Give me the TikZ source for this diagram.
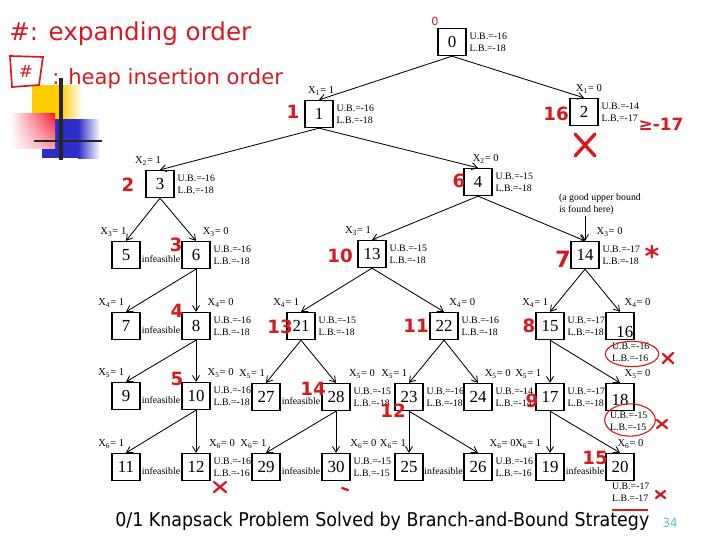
\documentclass[tikz,border=0pt]{standalone}
\usepackage{fontspec}
\setmainfont{Liberation Serif}
\newfontfamily\notefont{DejaVu Sans}
\newfontfamily\titlefont[FakeStretch=0.92]{DejaVu Sans}
\usetikzlibrary{arrows.meta,shadings}
\definecolor{pen}{RGB}{215,25,30}
\definecolor{pagenum}{RGB}{90,195,195}
\definecolor{tyellow}{RGB}{255,204,0}
\definecolor{tblue}{RGB}{45,45,200}
\definecolor{tred}{RGB}{245,20,45}
\newcommand{\xv}[2]{X\textsubscript{#1}= #2}
\begin{document}
\begin{tikzpicture}[x=0.025cm,y=-0.025cm,>={Straight Barb[length=4pt,width=5pt]},
  box/.style={draw,line width=.8pt,minimum width=.7cm,minimum height=.68cm,inner sep=0pt,font=\fontsize{12}{12}\selectfont},
  bd/.style={anchor=west,align=left,inner sep=1pt,xshift=1pt,font=\fontsize{7}{8.5}\selectfont},
  one/.style={pos=1,anchor=south east,inner sep=1pt,yshift=2pt,font=\fontsize{7.5}{8}\selectfont},
  zero/.style={pos=1,anchor=south west,inner sep=1pt,yshift=2pt,xshift=2pt,font=\fontsize{7.5}{8}\selectfont},
  inf/.style={inner sep=0pt,yshift=-3pt,font=\fontsize{7}{8}\selectfont},
  note/.style={pen,inner sep=0pt,font=\notefont\bfseries\fontsize{13}{13}\selectfont},
  cross/.style={pen,line width=1.6pt,line cap=round},
  edge/.style={->,line width=.6pt}]
\useasboundingbox (0,0) rectangle (720,540);

% template corner
\fill[tyellow] (32,85) rectangle (60,120);
\shade[left color=tyellow,right color=white] (60,85) rectangle (82,120);
\fill[tblue] (42,119) rectangle (78,158);
\shade[left color=tblue,right color=white] (78,119) rectangle (100,158);
\shade[upper right=tred,upper left=white,lower left=white,lower right=tred!40] (10,113) rectangle (55,148);
\draw[black!85,line width=2.2pt] (61,78) -- (61,160);
\draw[black!85,line width=1.6pt] (34,141) -- (102,141);

% tree
\node[box] (n0) at (452,42) {0};
\node[box] (n1) at (319,114) {1};
\node[box] (n2) at (584,112) {2};
\node[box] (n3) at (160,184) {3};
\node[box] (n4) at (478,182) {4};
\node[box] (n5) at (126,255) {5};
\node[box] (n6) at (196,255) {6};
\node[box] (n13) at (372,254) {13};
\node[box] (n14) at (585,255) {14};
\node[box] (n7) at (126,326) {7};
\node[box] (n8) at (196,326) {8};
\node[box] (n21) at (301,326) {21};
\node[box] (n22) at (444,326) {22};
\node[box] (n15) at (550,326) {15};
\node[box,text height=16pt] (n16) at (620,326) {\hspace{7pt}16};
\node[box] (n9) at (126,396) {9};
\node[box] (n10) at (196,396) {10};
\node[box] (n27) at (266,397) {27};
\node[box] (n28) at (336,397) {28};
\node[box] (n23) at (409,397) {23};
\node[box] (n24) at (478,397) {24};
\node[box] (n17) at (550,397) {17};
\node[box,text height=12pt] (n18) at (620,397) {18};
\node[box] (n11) at (126,467) {11};
\node[box] (n12) at (196,467) {12};
\node[box] (n29) at (266,467) {29};
\node[box] (n30) at (336,467) {30};
\node[box] (n25) at (409,467) {25};
\node[box] (n26) at (478,467) {26};
\node[box] (n19) at (550,467) {19};
\node[box] (n20) at (620,467) {20};

\draw[edge] (n0.south) -- (n1.north) node[one,xshift=12pt]{\xv{1}{1}};
\draw[edge] (n0.south) -- (n2.north) node[zero,xshift=-9pt]{\xv{1}{0}};
\draw[edge] (n1.south) -- (n3.north) node[one,xshift=2pt]{\xv{2}{1}};
\draw[edge] (n1.south) -- (n4.north) node[zero,xshift=-7pt]{\xv{2}{0}};
\draw[edge] (n3.south) -- (n5.north) node[one,xshift=1.5pt]{\xv{3}{1}};
\draw[edge] (n3.south) -- (n6.north) node[zero,xshift=1.5pt]{\xv{3}{0}};
\draw[edge] (n4.south) -- (n13.north) node[one,xshift=.5pt]{\xv{3}{1}};
\draw[edge] (n4.south) -- (n14.north) node[zero,xshift=5pt]{\xv{3}{0}};
\draw[edge] (n6.south) -- (n7.north) node[one]{\xv{4}{1}};
\draw[edge] (n6.south) -- (n8.north) node[zero,xshift=5pt]{\xv{4}{0}};
\draw[edge] (n13.south) -- (n21.north) node[one]{\xv{4}{1}};
\draw[edge] (n13.south) -- (n22.north) node[zero,xshift=.5pt]{\xv{4}{0}};
\draw[edge] (n14.south) -- (n15.north) node[one]{\xv{4}{1}};
\draw[edge] (n14.south) -- (n16.north) node[zero]{\xv{4}{0}};
\draw[edge] (n8.south) -- (n9.north) node[one]{\xv{5}{1}};
\draw[edge] (n8.south) -- (n10.north) node[zero,xshift=5pt]{\xv{5}{0}};
\draw[edge] (n21.south) -- (n27.north) node[one,xshift=.5pt]{\xv{5}{1}};
\draw[edge] (n21.south) -- (n28.north) node[zero,xshift=6pt]{\xv{5}{0}};
\draw[edge] (n22.south) -- (n23.north) node[one]{\xv{5}{1}};
\draw[edge] (n22.south) -- (n24.north) node[zero,xshift=1.5pt]{\xv{5}{0}};
\draw[edge] (n15.south) -- (n17.north) node[one,xshift=-5pt]{\xv{5}{1}};
\draw[edge] (n15.south) -- (n18.north) node[zero,xshift=0pt]{\xv{5}{0}};
\draw[edge] (n10.south) -- (n11.north) node[one]{\xv{6}{1}};
\draw[edge] (n10.south) -- (n12.north) node[zero,xshift=6pt]{\xv{6}{0}};
\draw[edge] (n28.south) -- (n29.north) node[one,xshift=1.5pt]{\xv{6}{1}};
\draw[edge] (n28.south) -- (n30.north) node[zero,xshift=7pt]{\xv{6}{0}};
\draw[edge] (n23.south) -- (n25.north) node[one,xshift=-1pt]{\xv{6}{1}};
\draw[edge] (n23.south) -- (n26.north) node[zero,xshift=5pt]{\xv{6}{0}};
\draw[edge] (n17.south) -- (n19.north) node[one,xshift=-5pt]{\xv{6}{1}};
\draw[edge] (n17.south) -- (n20.north) node[zero,xshift=-5pt]{\xv{6}{0}};

% bounds
\node[bd] (b0) at (n0.east) {U.B.=-16\\L.B.=-18};
\node[bd] (b1) at (n1.east) {U.B.=-16\\L.B.=-18};
\node[bd] (b2) at (n2.east) {U.B.=-14\\L.B.=-17};
\node[bd] (b3) at (n3.east) {U.B.=-16\\L.B.=-18};
\node[bd] (b4) at (n4.east) {U.B.=-15\\L.B.=-18};
\node[bd] (b6) at (n6.east) {U.B.=-16\\L.B.=-18};
\node[bd] (b13) at (n13.east) {U.B.=-15\\L.B.=-18};
\node[bd] (b14) at (n14.east) {U.B.=-17\\L.B.=-18};
\node[bd] (b8) at (n8.east) {U.B.=-16\\L.B.=-18};
\node[bd] (b21) at (n21.east) {U.B.=-15\\L.B.=-18};
\node[bd] (b22) at (n22.east) {U.B.=-16\\L.B.=-18};
\node[bd] (b15) at (n15.east) {U.B.=-17\\L.B.=-18};
\node[bd,anchor=north west] (b16) at (609,341) {U.B.=-16\\L.B.=-16};
\node[bd] (b10) at (n10.east) {U.B.=-16\\L.B.=-18};
\node[bd] (b28) at (n28.east) {U.B.=-15\\L.B.=-18};
\node[bd] (b23) at (n23.east) {U.B.=-16\\L.B.=-18};
\node[bd] (b24) at (n24.east) {U.B.=-14\\L.B.=-14};
\node[bd] (b17) at (n17.east) {U.B.=-17\\L.B.=-18};
\node[bd,anchor=north west] (b18) at (607,410) {U.B.=-15\\L.B.=-15};
\node[bd] (b12) at (n12.east) {U.B.=-16\\L.B.=-16};
\node[bd] (b30) at (n30.east) {U.B.=-15\\L.B.=-15};
\node[bd] (b26) at (n26.east) {U.B.=-16\\L.B.=-16};
\node[bd,anchor=north west] (b20) at (609,481) {U.B.=-17\\L.B.=-17};

\path (n5) -- node[inf]{infeasible} (n6);
\path (n7) -- node[inf]{infeasible} (n8);
\path (n9) -- node[inf]{infeasible} (n10);
\path (n11) -- node[inf]{infeasible} (n12);
\path (n27) -- node[inf]{infeasible} (n28);
\path (n29) -- node[inf]{infeasible} (n30);
\path (n25) -- node[inf]{infeasible} (n26);
\path (n19) -- node[inf]{infeasible} (n20);

\node[bd,anchor=west] (good) at (556,204) {(a good upper bound\\is found here)};
\draw[edge] (good.south -| n14) -- (n14.north);

% handwritten notes
\node[pen,anchor=base west,inner sep=0pt,font=\notefont\fontsize{17.5}{17.5}\selectfont] (h1) at (9,40) {\#: expanding order};
\draw[pen,line width=1.2pt] (10,56) -- (43,57) -- (39,85) -- (12,87) -- cycle;
\node[pen,inner sep=0pt,font=\notefont\fontsize{12}{12}\selectfont] (h0) at (26,71) {\#};
\node[pen,anchor=base west,inner sep=0pt,font=\notefont\fontsize{15}{15}\selectfont] (h2) at (52,84) {: heap insertion order};

\node[note,font=\notefont\fontsize{8}{8}\selectfont] (o0) at (435,21) {0};
\node[note] (o1) at (293,112) {1};
\node[note] (o16) at (556,114) {16};
\node[note,font=\notefont\bfseries\fontsize{12}{12}\selectfont] (o17) at (661,124) {≥-17};
\node[note] (o2) at (128,185) {2};
\node[note] (o6) at (459,181) {6};
\node[note] (o3) at (176,245) {3};
\node[note] (o10) at (340,256) {10};
\node[note,font=\notefont\bfseries\fontsize{16}{16}\selectfont] (o7) at (563,259) {7};
\node[note,font=\notefont\bfseries\fontsize{20}{20}\selectfont] (star) at (652,256) {*};
\node[note] (o4) at (177,311) {4};
\node[note] (o13) at (280,327) {13};
\node[note] (o11) at (416,326) {11};
\node[note] (o8) at (529,326) {8};
\node[note] (o5) at (177,379) {5};
\node[note] (o14) at (313,389) {14};
\node[note] (o12) at (393,411) {12};
\node[note] (o9) at (532,401) {9};
\node[note] (o15) at (595,458) {15};

\draw[cross,line width=2.4pt] (575,134) -- (595,156) (595,134) -- (575,156);
\draw[cross] (663,354) -- (673,363) (673,353) -- (663,363);
\draw[cross] (657,420) -- (667,428) (667,420) -- (657,428);
\draw[cross] (214,482) -- (226,492) (226,482) -- (214,492);
\draw[cross] (342,488) -- (348,490);
\draw[cross] (656,491) -- (665,498) (665,491) -- (656,498);
\draw[pen,line width=.8pt] (632,354) ellipse (19pt and 9pt);
\draw[pen,line width=.8pt] (630,420) ellipse (18pt and 11.5pt);
\draw[pen,line width=.8pt] (612,510) -- (648,510);

% footer
\node[anchor=base west,inner sep=0pt,font=\titlefont\fontsize{13.5}{14}\selectfont] (title) at (115,526) {0/1 Knapsack Problem Solved by Branch-and-Bound Strategy};
\node[pagenum,inner sep=0pt,font=\titlefont\fontsize{9}{9}\selectfont] (page) at (670,523) {34};
\end{tikzpicture}
\end{document}
